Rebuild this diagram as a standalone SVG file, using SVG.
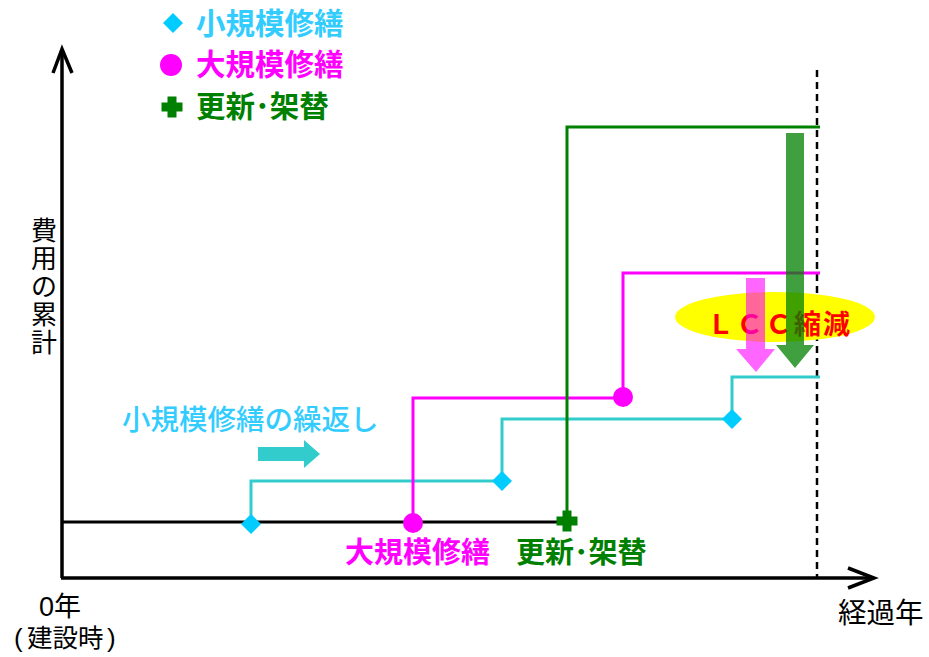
<svg xmlns="http://www.w3.org/2000/svg" width="929" height="657" viewBox="0 0 929 657">
<style>
text{font-family:"Liberation Sans","Noto Sans CJK JP",sans-serif;}
.b{font-weight:bold;}
.cy{fill:#33CCFF;}
.mg{fill:#FF00FF;}
.gr{fill:#008000;}
.blk{fill:#000;}
.l{fill:none;stroke-width:3;}
</style>
<defs>
<path id="dia" d="M0,-10 L10,0 L0,10 L-10,0 Z" fill="#00CCFF"/>
<path id="plus" d="M-4.5,-10.5 H4.5 V-4.5 H10.5 V4.5 H4.5 V10.5 H-4.5 V4.5 H-10.5 V-4.5 H-4.5 Z" fill="#008000"/>
</defs>
<rect width="929" height="657" fill="#fff"/>
<g id="legend">
<use href="#dia" x="173" y="23"/>
<text class="b cy" x="196" y="34" font-size="29.5">小規模修繕</text>
<circle cx="171" cy="65" r="11" fill="#FF00FF"/>
<text class="b mg" x="196" y="75" font-size="29.5">大規模修繕</text>
<use href="#plus" x="172" y="107"/>
<text class="b gr" x="196" y="117" font-size="29.5">更新･架替</text>
</g>
<g id="axes">
<line x1="62" y1="578" x2="62" y2="50" stroke="#000" stroke-width="3.5"/>
<polyline points="53,73 62,49 72,73" fill="none" stroke="#000" stroke-width="3.5"/>
<line x1="61" y1="578" x2="872" y2="578" stroke="#000" stroke-width="3.5"/>
<polyline points="848,568 874,578 848,588" fill="none" stroke="#000" stroke-width="3.5"/>
<line x1="817" y1="70" x2="817" y2="578" stroke="#000" stroke-width="2.5" stroke-dasharray="7,5"/>
</g>
<g id="connectors">
<polyline class="l" stroke="#000" points="62,522 567,522"/>
<polyline class="l" stroke="#33CCCC" points="251,524 251,481 502,481 502,419 732,419 732,377 820,377"/>
<polyline class="l" stroke="#FF00FF" points="413,523 413,398 623,398 623,273 820,273"/>
<polyline class="l" stroke="#008000" points="567,522 567,127 820,127"/>
</g>
<g id="markers">
<use href="#dia" x="251" y="524"/>
<use href="#dia" x="502" y="481"/>
<use href="#dia" x="732" y="419"/>
<circle cx="413" cy="523" r="10" fill="#FF00FF"/>
<circle cx="623" cy="397" r="10" fill="#FF00FF"/>
<use href="#plus" x="567" y="521"/>
</g>
<g id="repeat-arrow">
<path d="M258,447 H304 V440 L320,454 L304,468 V461 H258 Z" fill="#33CCCC"/>
<text class="cy" x="122" y="430" font-size="28.5" font-weight="500">小規模修繕の繰返し</text>
</g>
<g id="lcc">
<ellipse cx="775" cy="317" rx="100" ry="25" fill="#FFFF00"/>
<text class="b" x="707" y="334" font-size="27" letter-spacing="2" fill="#FF0000">ＬＣＣ縮減</text>
<path d="M746,278 H765 V349 H775 L756,372 L736,349 H746 Z" fill="#FF00FF" fill-opacity="0.6"/>
<path d="M786,133 H804 V345 H814 L795,368 L776,345 H786 Z" fill="#008000" fill-opacity="0.75"/>
</g>
<g id="labels">
<text class="b mg" x="345" y="563" font-size="29">大規模修繕</text>
<text class="b gr" x="516" y="563" font-size="29">更新･架替</text>
<text class="blk" x="44" y="240" font-size="26" text-anchor="middle">費</text>
<text class="blk" x="44" y="268" font-size="26" text-anchor="middle">用</text>
<text class="blk" x="44" y="296" font-size="26" text-anchor="middle">の</text>
<text class="blk" x="44" y="324" font-size="26" text-anchor="middle">累</text>
<text class="blk" x="44" y="352" font-size="26" text-anchor="middle">計</text>
<text class="blk" x="60" y="616" font-size="27" text-anchor="middle">0年</text>
<text class="blk" y="647" font-size="25.5"><tspan x="14" font-size="26">(</tspan><tspan x="27">建設時</tspan><tspan x="107" font-size="26">)</tspan></text>
<text class="blk" x="838" y="623" font-size="28.5">経過年</text>
</g>
</svg>
